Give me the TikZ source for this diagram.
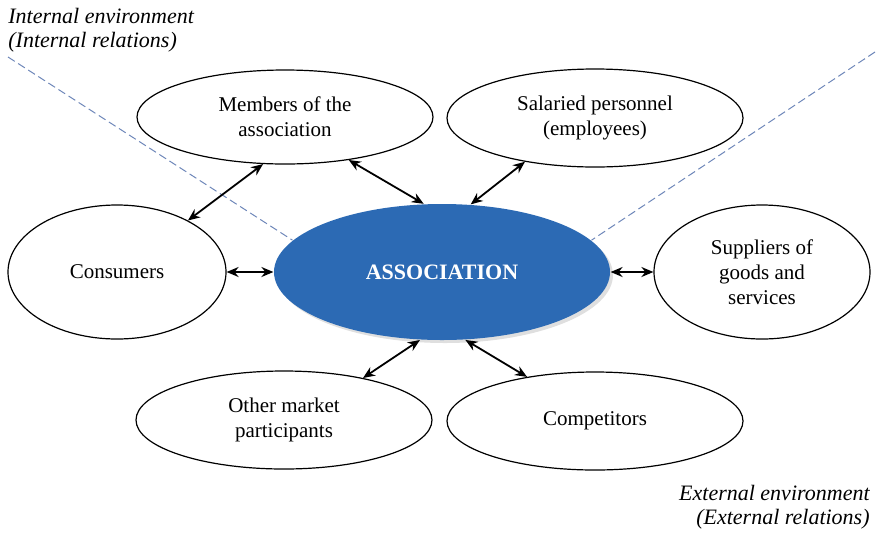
\documentclass[tikz,border=0pt]{standalone}
\usepackage{fontspec}
\setmainfont{Liberation Serif}
\usetikzlibrary{shapes.geometric,arrows.meta,shadows}
\definecolor{assocblue}{RGB}{44,106,180}
\definecolor{envcol}{RGB}{110,135,185}

\begin{document}
\begin{tikzpicture}[x=0.5pt, y=-0.5pt, font=\fontsize{10.5}{12.5}\selectfont,
  party/.style={ellipse, draw, line width=0.6pt, inner sep=0pt, align=center},
  link/.style={{Stealth[length=6pt,width=5pt]}-{Stealth[length=6pt,width=5pt]}, line width=0.9pt},
  envline/.style={dash pattern=on 4pt off 2pt, draw=envcol, line width=0.5pt},
  envtext/.style={font=\fontsize{11}{12}\selectfont\itshape, inner sep=0pt}]
  \useasboundingbox (0,0) rectangle (878,537);

  % environment labels and borders
  \node[envtext, anchor=north west, align=left] (intlabel) at (8,8) {Internal environment\\(Internal relations)};
  \node[envtext, anchor=south east, align=right] (extlabel) at (870,530) {External environment\\(External relations)};
  \coordinate (intend) at (8,57);
  \coordinate (extend) at (875,52);

  % the association and its partners
  \node[party, draw=none, fill=assocblue, text=white, font=\fontsize{11}{13}\selectfont\bfseries,
        minimum width=168pt, minimum height=68pt,
        drop shadow={shadow xshift=1.5pt, shadow yshift=-1.5pt, opacity=0.25}] (assoc) at (442,272) {ASSOCIATION};
  \node[party, minimum width=148pt, minimum height=47pt] (members) at (285,117) {Members of the\\association};
  \node[party, minimum width=148pt, minimum height=49pt] (salaried) at (595,118) {Salaried personnel\\(employees)};
  \node[party, minimum width=109pt, minimum height=67pt] (consumers) at (117,272) {Consumers};
  \node[party, minimum width=108pt, minimum height=67pt] (suppliers) at (762,272) {Suppliers of\\goods and\\services};
  \node[party, minimum width=148pt, minimum height=49pt] (others) at (284,420) {Other market\\participants};
  \node[party, minimum width=148pt, minimum height=49pt] (competitors) at (595,421) {Competitors};

  \draw[envline] (intend) -- (assoc.168);
  \draw[envline] (extend) -- (assoc.12);

  % relations
  \draw[link] (consumers.36) -- (members.245);
  \draw[link] (members.326) -- (assoc.105);
  \draw[link] (assoc.67) -- (salaried.212);
  \draw[link] (consumers.east) -- (assoc.west);
  \draw[link] (assoc.east) -- (suppliers.west);
  \draw[link] (assoc.252) -- (others.28);
  \draw[link] (assoc.289) -- (competitors.147);
\end{tikzpicture}
\end{document}
